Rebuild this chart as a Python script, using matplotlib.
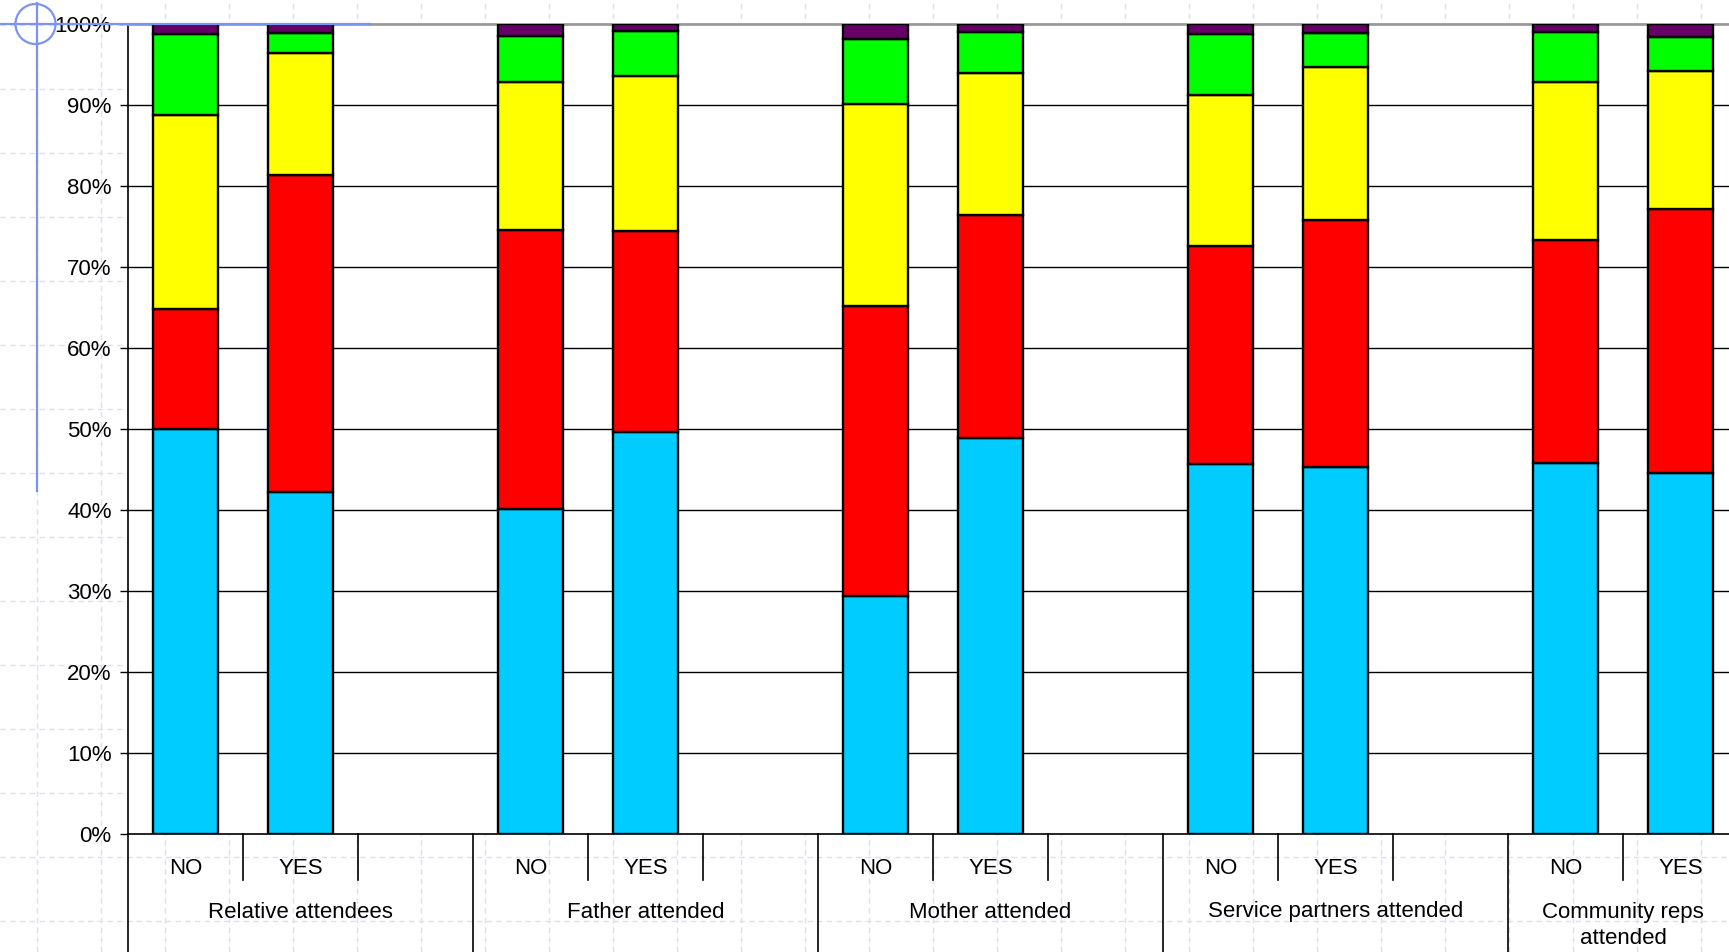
#!/usr/bin/env python3
"""Stacked 100% bars: outcome split by who attended the meeting."""

import matplotlib

matplotlib.use("Agg")
import matplotlib.pyplot as plt
import numpy as np
from matplotlib.patches import Circle
from matplotlib.transforms import blended_transform_factory

plt.rcParams["font.family"] = ["Liberation Sans", "DejaVu Sans"]

GROUPS = [
    "Relative attendees",
    "Father attended",
    "Mother attended",
    "Service partners attended",
    "Community reps\nattended",
]
BAR_LABELS = ["NO", "YES"]

# segment shares (%) per bar, order: g1 NO, g1 YES, g2 NO, g2 YES, ...
BLUE = [50.0, 42.2, 40.1, 49.7, 29.4, 48.9, 45.7, 45.4, 45.9, 44.6]
RED = [14.9, 39.2, 34.5, 24.8, 35.8, 27.6, 26.9, 30.4, 27.5, 32.6]
YELLOW = [23.9, 15.1, 18.3, 19.1, 25.0, 17.5, 18.7, 18.9, 19.5, 17.0]
GREEN = [10.0, 2.4, 5.7, 5.6, 8.0, 5.1, 7.5, 4.2, 6.2, 4.2]
PURPLE = [1.2, 1.1, 1.4, 0.8, 1.8, 0.9, 1.2, 1.1, 0.9, 1.6]

SERIES = [
    (BLUE, "#00ccff"),
    (RED, "#ff0000"),
    (YELLOW, "#ffff00"),
    (GREEN, "#00ff00"),
    (PURPLE, "#660066"),
]

W, H = 1729, 952
FONT = 16
fig = plt.figure(figsize=(W / 100, H / 100), dpi=100)

# slide background grid
bg = fig.add_axes([0, 0, 1, 1], zorder=-5)
bg.set_xlim(0, W)
bg.set_ylim(H, 0)
bg.axis("off")
for gx in np.arange(37, W, 64):
    bg.axvline(gx, color="#d9e0f9", lw=1, ls=(0, (4, 3)))
for gy in np.arange(25, H, 64):
    bg.axhline(gy, color="#d9e0f9", lw=1, ls=(0, (4, 3)))

# main chart; the last slot runs a bit past the right edge of the picture
left, right, top, bottom = 128, 1738, 24.3, 834.3
ax = fig.add_axes([left / W, 1 - bottom / H, (right - left) / W, (bottom - top) / H])
ax.set_facecolor("white")

n_slots = 14
positions = []
for g in range(len(GROUPS)):
    positions += [3 * g + 0.5, 3 * g + 1.5]
positions = np.array(positions)

base = np.zeros(len(positions))
for values, color in SERIES:
    vals = np.array(values)
    ax.bar(positions, vals, bottom=base, width=0.56, color=color,
           edgecolor="black", linewidth=1.7, zorder=3)
    base += vals

ax.set_xlim(0, n_slots)
ax.set_ylim(0, 100)
ax.set_yticks(np.arange(0, 101, 10))
ax.set_yticklabels([f"{v}%" for v in range(0, 101, 10)])
ax.tick_params(axis="y", direction="out", length=5.8, width=1, pad=6,
               labelsize=FONT, colors="black")
ax.set_xticks([])
for y in range(10, 100, 10):
    ax.axhline(y, color="black", lw=1, zorder=1)

ax.spines["right"].set_visible(False)
ax.spines["top"].set_color("#9a9a9a")
ax.spines["top"].set_linewidth(2)
ax.spines["left"].set_linewidth(1.2)
ax.spines["bottom"].set_linewidth(1.2)

# category axis: separators and labels under the plot
span = bottom - top
trans = blended_transform_factory(ax.transData, ax.transAxes)
inner_len = 46 / span
outer_len = (H - bottom) / span
for g in range(len(GROUPS)):
    x0 = 3 * g
    ax.plot([x0, x0], [0, -outer_len], transform=trans, color="black",
            lw=1.2, clip_on=False)
    for k in (1, 2):
        ax.plot([x0 + k, x0 + k], [0, -inner_len], transform=trans,
                color="black", lw=1.2, clip_on=False)
for x, lab in zip(positions, BAR_LABELS * len(GROUPS)):
    ax.text(x, -(868 - bottom) / span, lab, transform=trans,
            ha="center", va="center", fontsize=FONT)
for g, name in enumerate(GROUPS):
    last_group = g == len(GROUPS) - 1
    cx = 3 * g + 1.0 if last_group else 3 * g + 1.5
    cy = 925.5 if "\n" in name else 912
    ax.text(cx, -(cy - bottom) / span, name, transform=trans,
            ha="center", va="center", fontsize=FONT, linespacing=1.27)

# crosshair marker from the slide
ov = fig.add_axes([0, 0, 1, 1], zorder=10)
ov.set_xlim(0, W)
ov.set_ylim(H, 0)
ov.axis("off")
blue = "#7b93f2"
ov.add_patch(Circle((35.5, 24), 20, fill=False, edgecolor=blue, lw=1.6))
ov.plot([36.7, 36.7], [3, 491], color=blue, lw=1.6)
ov.plot([0, 370], [24, 24], color=blue, lw=1.6)

fig.savefig("out.png", dpi=100)
